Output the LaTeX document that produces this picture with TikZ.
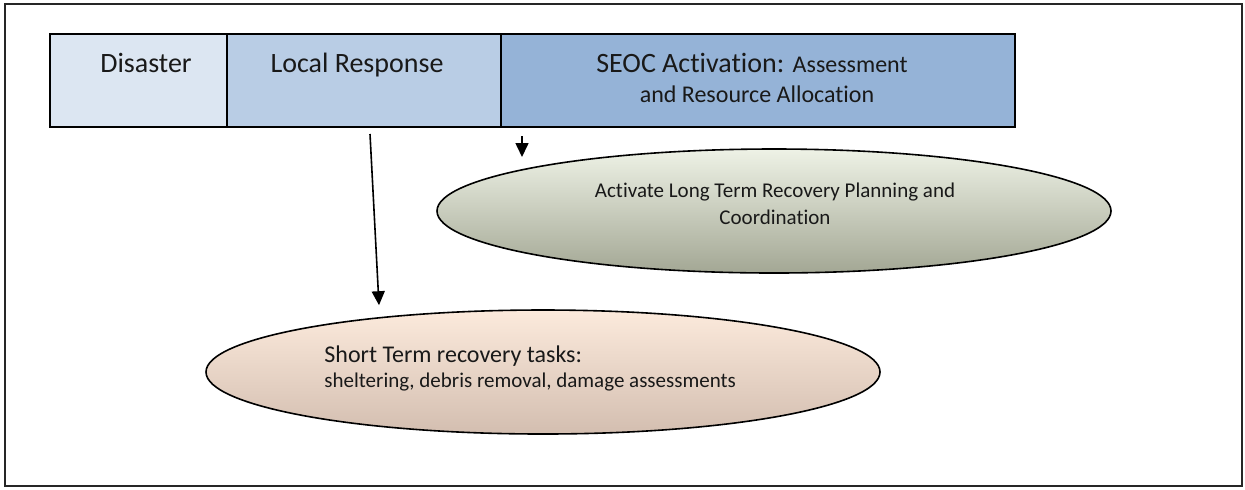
\documentclass[tikz,border=0pt]{standalone}
\usepackage{fontspec}
\setmainfont{Carlito}[Ligatures=NoCommon]
\usetikzlibrary{shapes.geometric,arrows.meta}
\definecolor{cDis}{HTML}{DCE6F2}
\definecolor{cLoc}{HTML}{B9CDE5}
\definecolor{cSeoc}{HTML}{95B3D7}
\definecolor{gTop}{HTML}{EEF2E6}
\definecolor{gBot}{HTML}{A3A794}
\definecolor{pTop}{HTML}{FCEADC}
\definecolor{pBot}{HTML}{D3BEB0}
\tikzset{
  phase/.style={draw=black, line width=1pt, anchor=north west, inner sep=0pt, minimum height=46.5pt},
  oval/.style={ellipse, draw=black, line width=0.8pt, inner sep=0pt, minimum width=337pt, minimum height=62pt},
  txt/.style={anchor=base, inner sep=0pt, text=black!90},
  arr/.style={draw=black, line width=0.8pt, -{Triangle[length=7pt,width=6.5pt]}}
}
\begin{document}
\begin{tikzpicture}[x=0.5pt,y=-0.5pt]
\useasboundingbox (0,0) rectangle (1245,489);
\draw[line width=1.3pt, draw=black!85] (5,4) rectangle (1242,486);
% phase boxes
\node[phase, fill=cDis, minimum width=88.5pt] (dis) at (49,33) {};
\node[phase, fill=cLoc, minimum width=137pt] (loc) at (226,33) {};
\node[phase, fill=cSeoc, minimum width=257pt] (seoc) at (500,33) {};
\node[txt, font=\fontsize{14}{16}\selectfont] (distxt) at (146,72) {Disaster};
\node[txt, font=\fontsize{14}{16}\selectfont] (loctxt) at (357,72) {Local Response};
\node[txt, font=\fontsize{14}{16}\selectfont] (seoc1) at (752,72) {SEOC Activation: {\fontsize{12}{14}\selectfont Assessment}};
\node[txt, font=\fontsize{12}{14}\selectfont] (seoc2) at (757,102) {and Resource Allocation};
% ellipses
\node[oval, top color=gTop, bottom color=gBot] (lt) at (774,211) {};
\node[txt, font=\fontsize{10.5}{12}\selectfont] (lt1) at (775,197) {Activate Long Term Recovery Planning and};
\node[txt, font=\fontsize{10.5}{12}\selectfont] (lt2) at (775,224) {Coordination};
\node[oval, top color=pTop, bottom color=pBot] (st) at (543,372) {};
\node[txt, anchor=base west, font=\fontsize{12}{14}\selectfont] (st1) at (324,362) {Short Term recovery tasks:};
\node[txt, anchor=base west, font=\fontsize{10.5}{12}\selectfont] (st2) at (324,387) {sheltering, debris removal, damage assessments};
% connectors
\draw[arr] ([xshift=3pt,yshift=-3pt]loc.south) -- ([xshift=-82pt,yshift=2pt]st.north);
\draw[arr] ([xshift=11pt,yshift=-4pt]seoc.south west) -- ([xshift=11pt,yshift=-14.5pt]seoc.south west);
\end{tikzpicture}
\end{document}
